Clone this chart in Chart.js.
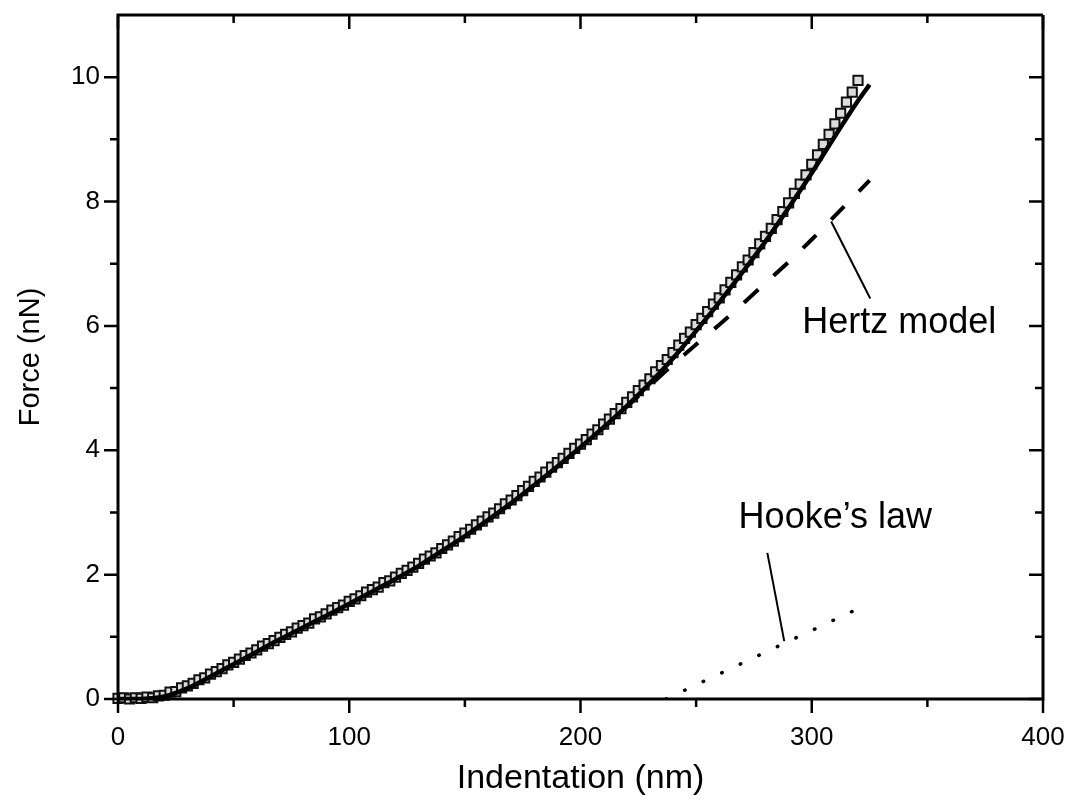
<!DOCTYPE html>
<html>
<head>
<meta charset="utf-8">
<script src="https://cdn.jsdelivr.net/npm/chart.js@4.4.1/dist/chart.umd.min.js"></script>
<style>
  html, body { margin: 0; padding: 0; background: #ffffff; }
  #wrap { width: 1071px; height: 809px; }
</style>
</head>
<body>
<div id="wrap"><canvas id="c" width="1071" height="809"></canvas></div>
<script>
// ---- data ----
const measX = [0,2.5,5,7.5,10,12.5,15,17.5,20,22.5,25,27.5,30,32.5,35,37.5,40,42.5,45,47.5,50,52.5,55,57.5,60,62.5,65,67.5,70,72.5,75,77.5,80,82.5,85,87.5,90,92.5,95,97.5,100,102.5,105,107.5,110,112.5,115,117.5,120,122.5,125,127.5,130,132.5,135,137.5,140,142.5,145,147.5,150,152.5,155,157.5,160,162.5,165,167.5,170,172.5,175,177.5,180,182.5,185,187.5,190,192.5,195,197.5,200,202.5,205,207.5,210,212.5,215,217.5,220,222.5,225,227.5,230,232.5,235,237.5,240,242.5,245,247.5,250,252.5,255,257.5,260,262.5,265,267.5,270,272.5,275,277.5,280,282.5,285,287.5,290,292.5,295,297.5,300,302.5,305,307.5,310,312.5,315,317.5,320];
const measF = [0.01,0.02,0.00,0.02,0.01,0.03,0.02,0.05,0.06,0.11,0.12,0.18,0.21,0.25,0.31,0.34,0.40,0.44,0.49,0.55,0.59,0.64,0.70,0.74,0.79,0.85,0.89,0.94,0.99,1.04,1.08,1.14,1.18,1.22,1.29,1.32,1.37,1.43,1.47,1.51,1.57,1.61,1.66,1.72,1.76,1.80,1.87,1.90,1.96,2.02,2.07,2.12,2.18,2.25,2.30,2.35,2.42,2.48,2.54,2.61,2.67,2.73,2.80,2.86,2.93,2.99,3.06,3.14,3.20,3.27,3.35,3.42,3.50,3.57,3.65,3.73,3.80,3.87,3.95,4.03,4.10,4.17,4.26,4.33,4.42,4.50,4.59,4.67,4.77,4.86,4.96,5.05,5.15,5.26,5.36,5.46,5.57,5.69,5.80,5.90,6.02,6.12,6.23,6.35,6.45,6.58,6.70,6.82,6.95,7.06,7.18,7.32,7.44,7.57,7.71,7.84,7.98,8.13,8.28,8.43,8.60,8.75,8.92,9.08,9.25,9.42,9.60,9.76,9.95];

const fitX = [0,10,20,30,40,50,60,70,80,90,100,110,120,130,140,150,160,170,180,190,200,210,220,230,240,250,260,270,280,290,300,310,320,325];
const fitF = [0,0.0,0.04,0.17,0.36,0.56,0.76,0.96,1.15,1.34,1.53,1.73,1.93,2.14,2.38,2.62,2.88,3.15,3.44,3.74,4.05,4.37,4.71,5.08,5.48,5.92,6.38,6.86,7.36,7.90,8.46,9.05,9.62,9.88];

const hertzX = [0,10,20,30,40,50,60,70,80,90,100,110,120,130,140,150,160,170,180,190,200,210,220,230,240,250,260,270,280,290,300,310,320,325];
const hertzF = [0,0.0,0.04,0.17,0.36,0.56,0.76,0.96,1.15,1.34,1.53,1.73,1.93,2.14,2.38,2.62,2.88,3.15,3.44,3.74,4.05,4.37,4.70,5.04,5.38,5.70,6.02,6.35,6.69,7.03,7.39,7.77,8.15,8.34];

const hookeX = [237, 325];
const hookeF = [0, 1.54];

const hertzPointerX = [308.4, 325.3];
const hertzPointerF = [7.68, 6.44];
const hookePointerX = [280.8, 288.1];
const hookePointerF = [2.35, 0.93];

const labels = [
  { text: "Hertz model", x: 337.8, y: 6.05 },
  { text: "Hooke\u2019s law", x: 310.2, y: 2.91 }
];

const xMajorTicks = [0, 100, 200, 300, 400];
const xMinorTicks = [50, 150, 250, 350];
const yMajorTicks = [0, 2, 4, 6, 8, 10];
const yMinorTicks = [1, 3, 5, 7, 9];

const xTitle = "Indentation (nm)";
const yTitle = "Force (nN)";

function pts(xs, ys) { return xs.map((x, i) => ({ x: x, y: ys[i] })); }

const FONT = "'Liberation Sans', Arial, Helvetica, sans-serif";

const framePlugin = {
  id: 'frame',
  afterDatasetsDraw(chart) {
    const ctx = chart.ctx;
    const a = chart.chartArea;
    const xs = chart.scales.x, ys = chart.scales.y;
    ctx.save();
    ctx.strokeStyle = '#000';
    ctx.lineWidth = 3;
    ctx.lineCap = 'butt';
    ctx.beginPath();
    ctx.moveTo(a.left, a.top); ctx.lineTo(a.right, a.top);
    ctx.moveTo(a.right, a.top); ctx.lineTo(a.right, a.bottom);
    ctx.moveTo(a.left - 1.5, a.bottom); ctx.lineTo(a.right + 1.5, a.bottom);
    ctx.moveTo(a.left, a.top - 1.5); ctx.lineTo(a.left, a.bottom + 1.5);
    ctx.stroke();
    ctx.lineWidth = 2.5;
    ctx.beginPath();
    const tick = (vals, len) => {
      vals.forEach(v => {
        const px = xs.getPixelForValue(v);
        ctx.moveTo(px, a.bottom); ctx.lineTo(px, a.bottom + len);
        ctx.moveTo(px, a.top); ctx.lineTo(px, a.top + len);
      });
    };
    const ytick = (vals, len) => {
      vals.forEach(v => {
        const py = ys.getPixelForValue(v);
        ctx.moveTo(a.left - len, py); ctx.lineTo(a.left, py);
        ctx.moveTo(a.right - len, py); ctx.lineTo(a.right, py);
      });
    };
    tick(xMajorTicks, 14); tick(xMinorTicks, 8);
    ytick(yMajorTicks, 14); ytick(yMinorTicks, 8);
    ctx.stroke();
    ctx.fillStyle = '#000';
    ctx.font = "36px " + FONT;
    ctx.textAlign = 'center';
    ctx.textBaseline = 'middle';
    labels.forEach(l => {
      ctx.fillText(l.text, xs.getPixelForValue(l.x), ys.getPixelForValue(l.y));
    });
    ctx.restore();
  }
};

function zeroPad(s) { s.paddingTop = 0; s.paddingBottom = 0; s.paddingLeft = 0; s.paddingRight = 0; }

const chart = new Chart(document.getElementById('c'), {
  type: 'scatter',
  data: {
    datasets: [
      {
        label: 'Hooke',
        type: 'line',
        data: pts(hookeX, hookeF),
        borderColor: '#000',
        borderWidth: 3.5,
        borderDash: [0.5, 20],
        borderCapStyle: 'round',
        pointRadius: 0,
        fill: false,
        order: 5
      },
      {
        label: 'Hertz',
        type: 'line',
        data: pts(hertzX, hertzF),
        borderColor: '#000',
        borderWidth: 4,
        borderDash: [19, 21],
        borderDashOffset: 8,
        pointRadius: 0,
        tension: 0.3,
        fill: false,
        order: 4
      },
      {
        label: 'Measured',
        data: pts(measX, measF),
        pointStyle: 'rect',
        pointRadius: 6.5,
        pointBorderWidth: 2,
        pointBorderColor: '#111',
        pointBackgroundColor: '#dcdcdc',
        clip: false,
        order: 3
      },
      {
        label: 'Fit',
        type: 'line',
        data: pts(fitX, fitF),
        borderColor: '#000',
        borderWidth: 4.5,
        pointRadius: 0,
        tension: 0.3,
        fill: false,
        order: 2
      },
      {
        label: 'HertzPointer',
        type: 'line',
        data: pts(hertzPointerX, hertzPointerF),
        borderColor: '#000',
        borderWidth: 2,
        pointRadius: 0,
        fill: false,
        order: 1
      },
      {
        label: 'HookePointer',
        type: 'line',
        data: pts(hookePointerX, hookePointerF),
        borderColor: '#000',
        borderWidth: 2,
        pointRadius: 0,
        fill: false,
        order: 1
      }
    ]
  },
  options: {
    responsive: false,
    animation: false,
    layout: { padding: { top: 15, right: 28, bottom: 0, left: 0 } },
    plugins: { legend: { display: false }, tooltip: { enabled: false } },
    scales: {
      x: {
        type: 'linear',
        min: 0, max: 400,
        grid: { display: false },
        border: { display: false },
        ticks: {
          stepSize: 100,
          includeBounds: false,
          padding: 15,
          color: '#000',
          font: { family: FONT, size: 26 },
          maxRotation: 0
        },
        title: {
          display: true,
          text: xTitle,
          color: '#000',
          font: { family: FONT, size: 34 },
          padding: { top: 0, bottom: 10 }
        },
        afterFit(s) { s.height = 110; zeroPad(s); }
      },
      y: {
        type: 'linear',
        min: 0, max: 11,
        grid: { display: false },
        border: { display: false },
        ticks: {
          stepSize: 2,
          includeBounds: false,
          padding: 10,
          color: '#000',
          font: { family: FONT, size: 26 }
        },
        title: {
          display: true,
          text: yTitle,
          color: '#000',
          font: { family: FONT, size: 29 },
          padding: { top: 14, bottom: 0 }
        },
        afterFit(s) { s.width = 118; zeroPad(s); }
      }
    }
  },
  plugins: [framePlugin]
});
</script>
</body>
</html>
